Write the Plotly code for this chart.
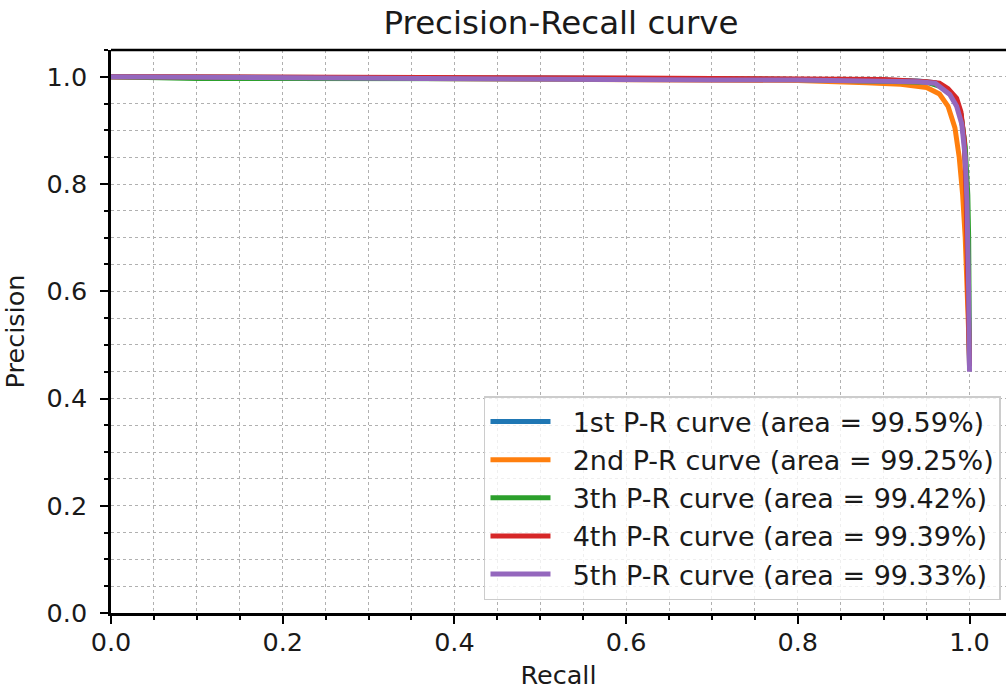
import plotly.graph_objects as go

# ---- data ----
labels = [
    "1st P-R curve (area = 99.59%)",
    "2nd P-R curve (area = 99.25%)",
    "3th P-R curve (area = 99.42%)",
    "4th P-R curve (area = 99.39%)",
    "5th P-R curve (area = 99.33%)",
]
colors = ["#1f77b4", "#ff7f0e", "#2ca02c", "#d62728", "#9467bd"]

recall_1 = [0.0, 0.1, 0.2, 0.3, 0.4, 0.5, 0.6, 0.7, 0.8, 0.9, 0.94, 0.96, 0.975, 0.985, 0.99, 0.994, 0.996, 0.998, 0.999, 1.0]
precision_1 = [1.0, 0.999, 0.999, 0.998, 0.998, 0.998, 0.997, 0.997, 0.996, 0.994, 0.992, 0.989, 0.975, 0.955, 0.93, 0.88, 0.80, 0.68, 0.55, 0.46]

recall_2 = [0.0, 0.1, 0.2, 0.3, 0.4, 0.5, 0.6, 0.7, 0.8, 0.88, 0.92, 0.95, 0.965, 0.975, 0.983, 0.988, 0.992, 0.995, 0.997, 0.999, 1.0]
precision_2 = [1.0, 0.999, 0.998, 0.997, 0.996, 0.996, 0.995, 0.994, 0.993, 0.989, 0.986, 0.98, 0.968, 0.945, 0.905, 0.85, 0.78, 0.70, 0.62, 0.52, 0.48]

recall_3 = [0.0, 0.05, 0.1, 0.2, 0.3, 0.4, 0.5, 0.6, 0.7, 0.8, 0.9, 0.95, 0.97, 0.982, 0.99, 0.995, 0.998, 0.999, 1.0]
precision_3 = [1.0, 0.998, 0.997, 0.997, 0.997, 0.998, 0.998, 0.997, 0.996, 0.995, 0.993, 0.99, 0.98, 0.962, 0.93, 0.87, 0.78, 0.70, 0.47]

recall_4 = [0.0, 0.1, 0.2, 0.3, 0.4, 0.5, 0.6, 0.7, 0.8, 0.9, 0.95, 0.965, 0.975, 0.985, 0.99, 0.994, 0.996, 0.998, 1.0]
precision_4 = [1.0, 1.0, 1.0, 0.999, 0.999, 0.998, 0.998, 0.997, 0.997, 0.995, 0.991, 0.988, 0.978, 0.96, 0.935, 0.88, 0.78, 0.60, 0.46]

recall_5 = [0.0, 0.1, 0.2, 0.3, 0.4, 0.5, 0.6, 0.7, 0.8, 0.9, 0.94, 0.96, 0.977, 0.985, 0.991, 0.995, 0.997, 0.999, 1.0]
precision_5 = [1.0, 0.999, 0.998, 0.996, 0.996, 0.995, 0.995, 0.994, 0.994, 0.993, 0.991, 0.988, 0.967, 0.945, 0.912, 0.85, 0.768, 0.60, 0.45]

recalls = [recall_1, recall_2, recall_3, recall_4, recall_5]
precisions = [precision_1, precision_2, precision_3, precision_4, precision_5]

x_ticks = [0.0, 0.2, 0.4, 0.6, 0.8, 1.0]
y_ticks = [0.0, 0.2, 0.4, 0.6, 0.8, 1.0]

FONT = "DejaVu Sans"
TXT = "#1a1a1a"
NB = "\u00a0\u00a0"  # small gap between legend line and its text

fig = go.Figure()
for i in range(5):
    fig.add_trace(go.Scatter(
        x=recalls[i], y=precisions[i], mode="lines", name=NB + labels[i],
        line=dict(color=colors[i], width=5), legendgroup=str(i),
    ))

axis_common = dict(
    showline=True, linecolor="black", linewidth=2.5,
    ticks="outside", ticklen=8, tickwidth=2, tickcolor="black",
    tickfont=dict(family=FONT, size=25.5, color=TXT),
    showgrid=True, gridcolor="#b0b0b0", gridwidth=1.2, griddash="dot",
    zeroline=False, automargin=False,
    minor=dict(dtick=0.05, ticks="outside", ticklen=4, tickwidth=1.5, tickcolor="black",
               showgrid=True, gridcolor="#b0b0b0", gridwidth=1.2, griddash="dot"),
)

fig.update_xaxes(
    range=[0, 1.0425], tickvals=x_ticks, ticktext=[f"{v:.1f}" for v in x_ticks],
    mirror=False,
    title=dict(text="Recall", font=dict(family=FONT, size=25.5, color=TXT), standoff=10),
    ticklabelstandoff=-3,
    **axis_common,
)
fig.update_yaxes(
    range=[0, 1.05], tickvals=y_ticks, ticktext=[f"{v:.1f}" for v in y_ticks],
    title=dict(text="Precision", font=dict(family=FONT, size=25.5, color=TXT), standoff=16),
    ticklabelstandoff=8,
    **axis_common,
)

fig.update_layout(
    width=1006, height=694,
    margin=dict(l=111, r=0, t=50, b=81, autoexpand=False),
    paper_bgcolor="white", plot_bgcolor="white",
    title=dict(text="Precision-Recall curve", font=dict(family=FONT, size=32.5, color=TXT),
               x=561 / 1006, xref="container", xanchor="center",
               y=1 - 23 / 694, yref="container", yanchor="middle", automargin=False),
    legend=dict(
        x=0.9944, y=0.023, xanchor="right", yanchor="bottom",
        bgcolor="rgba(255,255,255,0.8)", bordercolor="#cccccc", borderwidth=1.5,
        font=dict(family=FONT, size=27, color=TXT),
        itemwidth=60, tracegroupgap=8, traceorder="normal",
    ),
    showlegend=True,
)

# top spine
fig.add_shape(type="line", xref="paper", yref="paper", x0=0, x1=1, y0=1, y1=1,
              line=dict(color="black", width=2.5))

# remove the default page margin so the figure sits at the window's top-left corner
fig.write_html("out.html", config={"displayModeBar": False},
               post_script="document.body.style.margin='0';")
